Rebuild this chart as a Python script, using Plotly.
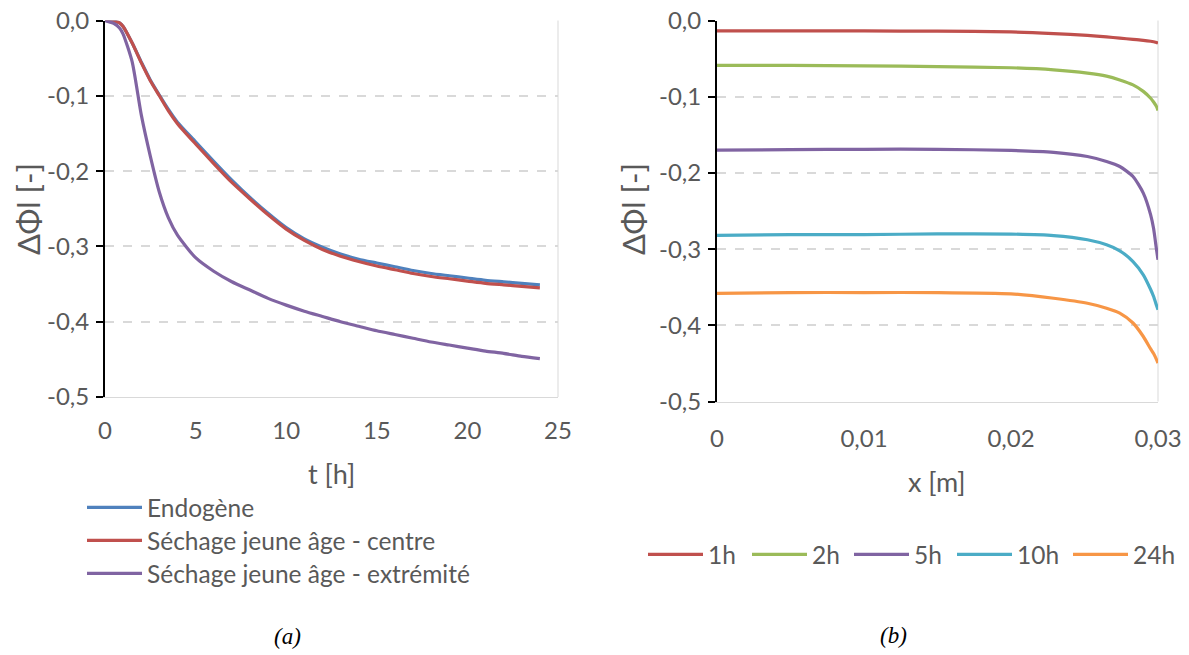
import plotly.graph_objects as go

# ---------------- data (a) ----------------
t_h = [0, 0.5, 0.8, 1, 1.5, 2, 2.5, 3, 3.5, 4, 5, 6, 7, 8, 9, 10, 11, 12, 13, 14,
       15, 16, 17, 18, 19, 20, 21, 22, 23, 24]
endogene = [0, -0.001, -0.003, -0.008, -0.03, -0.055, -0.079, -0.099, -0.118, -0.135, -0.161,
            -0.187, -0.212, -0.235, -0.256, -0.275, -0.290, -0.301, -0.310, -0.317,
            -0.322, -0.327, -0.332, -0.336, -0.339, -0.342, -0.345, -0.347, -0.349, -0.351]
centre = [0, -0.001, -0.003, -0.008, -0.03, -0.056, -0.080, -0.100, -0.120, -0.137, -0.164,
          -0.190, -0.215, -0.237, -0.258, -0.277, -0.292, -0.304, -0.313, -0.320,
          -0.326, -0.331, -0.336, -0.340, -0.343, -0.346, -0.349, -0.351, -0.353, -0.355]
extremite = [0, -0.004, -0.010, -0.018, -0.055, -0.125, -0.18, -0.228, -0.262, -0.285, -0.315,
             -0.333, -0.347, -0.358, -0.369, -0.378, -0.386, -0.393, -0.400, -0.406,
             -0.412, -0.417, -0.422, -0.427, -0.431, -0.435, -0.439, -0.442, -0.446, -0.449]

# ---------------- data (b) ----------------
x_m = [0, 0.005, 0.01, 0.015, 0.02, 0.0229, 0.0252, 0.0265, 0.0274, 0.0283, 0.029, 0.0295,
       0.0297, 0.0299, 0.03]
h1 = [-0.0135, -0.0135, -0.0137, -0.014, -0.015, -0.0172, -0.0196, -0.0215, -0.0231, -0.0248,
      -0.026, -0.0272, -0.0279, -0.0288, -0.0297]
h2 = [-0.059, -0.059, -0.0595, -0.0605, -0.062, -0.0647, -0.069, -0.073, -0.078, -0.0845,
      -0.093, -0.102, -0.107, -0.113, -0.118]
h5 = [-0.170, -0.1695, -0.169, -0.169, -0.1705, -0.173, -0.1785, -0.185, -0.1916, -0.2047,
      -0.2265, -0.255, -0.273, -0.301, -0.314]
h10 = [-0.282, -0.281, -0.281, -0.280, -0.2803, -0.2822, -0.2878, -0.2944, -0.3022, -0.3163,
       -0.3337, -0.353, -0.3622, -0.374, -0.3797]
h24 = [-0.358, -0.357, -0.357, -0.357, -0.3587, -0.3645, -0.371, -0.3775, -0.384, -0.397,
       -0.4147, -0.431, -0.437, -0.445, -0.4496]

y_ticks = [0, -0.1, -0.2, -0.3, -0.4, -0.5]
y_labels = ["0,0", "-0,1", "-0,2", "-0,3", "-0,4", "-0,5"]
t_ticks = [0, 5, 10, 15, 20, 25]
t_labels = ["0", "5", "10", "15", "20", "25"]
x_ticks = [0, 0.01, 0.02, 0.03]
x_labels = ["0", "0,01", "0,02", "0,03"]

names_a = ["Endogène", "Séchage jeune âge - centre", "Séchage jeune âge - extrémité"]
names_b = ["1h", "2h", "5h", "10h", "24h"]

col_a = ["#4F81BD", "#C0504D", "#8064A2"]
col_b = ["#C0504D", "#9BBB59", "#8064A2", "#4BACC6", "#F79646"]

FONT = "Lato"
GREY = "#595959"
W, H = 1189, 655
TICK_SIZE = 24
TITLE_SIZE = 27
YTITLE_SIZE = 31
LEG_SIZE = 24.5
ITEMW = 55

# one legend per entry so that each entry sits where the reference has it
leg_a_ids = ["legend", "legend3", "legend4"]
leg_b_ids = ["legend2", "legend5", "legend6", "legend7", "legend8"]
leg_a_text_y = [508, 541, 574]
leg_a_text_x = 148
leg_b_text_x = [709, 813, 915, 1018, 1134]
leg_b_text_y = 555

fig = go.Figure()
for i, (nm, ys) in enumerate(zip(names_a, [endogene, centre, extremite])):
    fig.add_trace(go.Scatter(x=t_h, y=ys, name=nm, mode="lines", showlegend=True,
                             line=dict(color=col_a[i], width=3.2, shape="spline", smoothing=0.6),
                             xaxis="x", yaxis="y", legend=leg_a_ids[i]))
for i, (nm, ys) in enumerate(zip(names_b, [h1, h2, h5, h10, h24])):
    fig.add_trace(go.Scatter(x=x_m, y=ys, name=nm, mode="lines", showlegend=True,
                             line=dict(color=col_b[i], width=3.2, shape="spline", smoothing=0.6),
                             xaxis="x2", yaxis="y2", legend=leg_b_ids[i]))


def px_x(p):
    return p / W


def px_y(p):
    return 1 - p / H


dom_a = [px_x(105), px_x(558)]
dom_b = [px_x(717), px_x(1158)]
ydom_a = [px_y(397), px_y(20.5)]
ydom_b = [px_y(401.5), px_y(20.5)]

grid = dict(showgrid=True, gridcolor="#D9D9D9", griddash="dash", gridwidth=1.5)
yax = dict(range=[-0.5, 0], tickvals=y_ticks, ticktext=y_labels, ticks="outside", ticklen=7, tickwidth=2,
           tickcolor="black", showline=True, linecolor="black", linewidth=2, zeroline=False,
           automargin=False, ticklabelstandoff=2, ticklabeloverflow="allow",
           tickfont=dict(family=FONT, size=TICK_SIZE, color=GREY), **grid)
xbot = dict(ticks="", showline=True, linecolor="#D9D9D9", linewidth=1, showgrid=False, zeroline=False,
            automargin=False, ticklabeloverflow="allow",
            tickfont=dict(family=FONT, size=TICK_SIZE, color=GREY), side="bottom")
xtop = dict(side="top", ticks="outside", ticklen=7, tickwidth=2, tickcolor="black", showticklabels=False,
            showline=True, linecolor="black", linewidth=2, showgrid=False, zeroline=False, automargin=False)


def ann(text, x, y, size, family=FONT, color=GREY, angle=0):
    return dict(text=text, x=px_x(x), y=px_y(y), xref="paper", yref="paper", showarrow=False,
                xanchor="center", yanchor="middle", textangle=angle,
                font=dict(family=family, size=size, color=color))


def leg(text_x, text_y):
    return dict(x=px_x(text_x - 41 - (ITEMW - 30)), y=px_y(text_y - 23), xanchor="left", yanchor="top",
                orientation="v", itemwidth=ITEMW,
                font=dict(family=FONT, size=LEG_SIZE, color=GREY), bgcolor="rgba(0,0,0,0)")


legends = {}
for i, lid in enumerate(leg_a_ids):
    legends[lid] = leg(leg_a_text_x, leg_a_text_y[i])
for i, lid in enumerate(leg_b_ids):
    legends[lid] = leg(leg_b_text_x[i], leg_b_text_y)

fig.update_layout(
    width=W, height=H, margin=dict(l=0, r=0, t=0, b=0, autoexpand=False),
    paper_bgcolor="white", plot_bgcolor="white", showlegend=True,
    font=dict(family=FONT, color=GREY),
    xaxis=dict(domain=dom_a, range=[0, 25], tickvals=t_ticks, ticktext=t_labels, anchor="y",
               ticklabelstandoff=12, **xbot),
    xaxis3=dict(overlaying="x", range=[0, 25], tickvals=t_ticks[1:], anchor="y", **xtop),
    yaxis=dict(domain=ydom_a, anchor="x", **yax),
    xaxis2=dict(domain=dom_b, range=[0, 0.03], tickvals=x_ticks, ticktext=x_labels, anchor="y2",
                ticklabelstandoff=16, **xbot),
    xaxis4=dict(overlaying="x2", range=[0, 0.03], tickvals=x_ticks[1:], anchor="y2", **xtop),
    yaxis2=dict(domain=ydom_b, anchor="x2", **yax),
    shapes=[
        dict(type="line", xref="x domain", yref="y domain", x0=1, x1=1, y0=0, y1=1,
             line=dict(color="#D9D9D9", width=1), layer="below"),
        dict(type="line", xref="x2 domain", yref="y2 domain", x0=1, x1=1, y0=0, y1=1,
             line=dict(color="#D9D9D9", width=1), layer="below"),
    ],
    annotations=[
        ann("t [h]", 331, 473, TITLE_SIZE),
        ann("x [m]", 937, 481, TITLE_SIZE),
        ann("ΔΦl [-]", 28, 209, YTITLE_SIZE, angle=-90),
        ann("ΔΦl [-]", 633, 209, YTITLE_SIZE, angle=-90),
        ann("<i>(a)</i>", 287, 636, 23, family="Liberation Serif", color="black"),
        ann("<i>(b)</i>", 893, 635, 23, family="Liberation Serif", color="black"),
    ],
    **legends,
)

fig.write_html("out.html", config={"displayModeBar": False},
               post_script="document.body.style.margin='0px';document.body.style.overflow='hidden';")
